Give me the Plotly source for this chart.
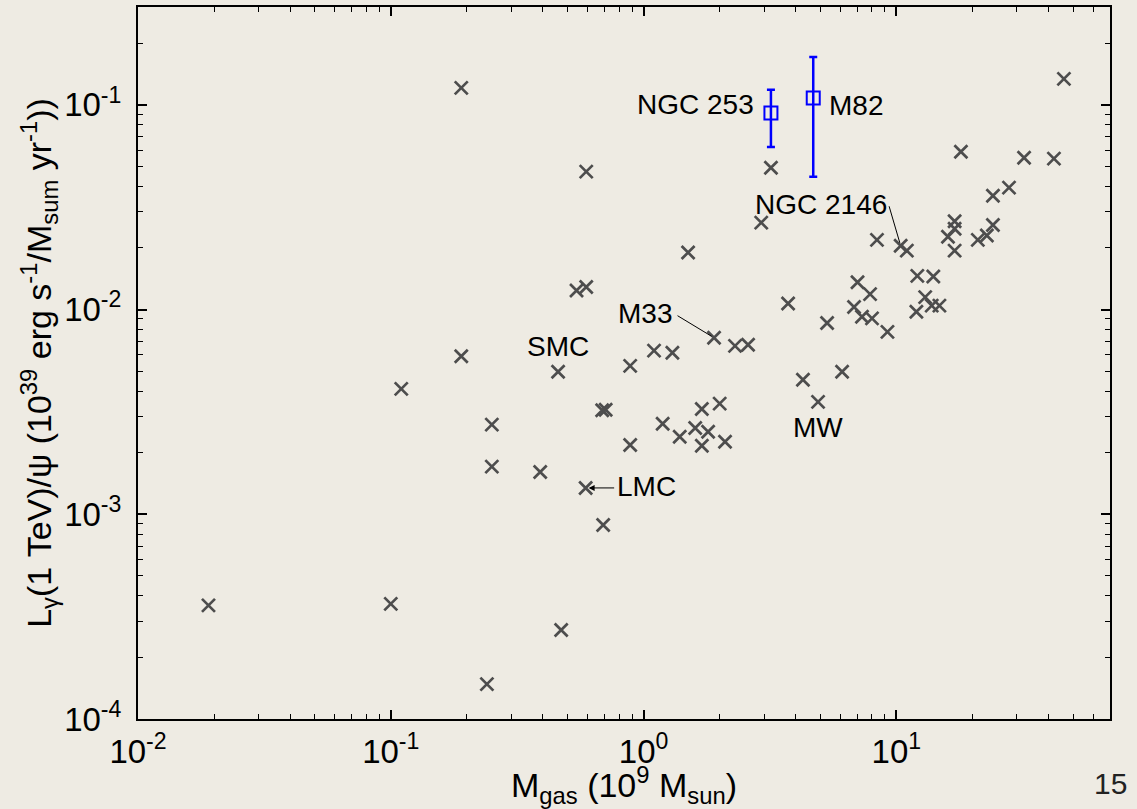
import numpy as np
import plotly.graph_objects as go

# ---- data ----
m_gas = [0.019, 0.100, 0.190, 0.190, 0.110, 0.251, 0.251, 0.390, 0.590, 0.692,
         0.472, 0.240, 0.686, 0.708, 0.885, 1.19, 1.39, 1.60, 1.70, 1.80,
         1.70, 2.00, 2.10, 4.27, 4.90, 3.19, 0.593, 2.92, 1.50, 0.543,
         0.593, 1.90, 2.30, 2.59, 1.10, 1.30, 0.885, 0.459, 46.0, 18.0,
         32.0, 42.0, 27.9, 24.1, 17.0, 17.0, 16.0, 17.0, 24.1, 22.8,
         21.0, 8.38, 10.4, 11.0, 12.1, 14.0, 13.0, 13.8, 14.8, 12.0,
         7.02, 7.87, 6.80, 7.31, 8.01, 9.22, 3.73, 5.32, 6.10]
l_gamma = [3.59e-4, 3.65e-4, 0.121, 5.92e-3, 4.10e-3, 2.74e-3, 1.71e-3, 1.61e-3, 1.345e-3, 8.87e-4,
           2.72e-4, 1.48e-4, 3.22e-3, 3.24e-3, 2.18e-3, 2.77e-3, 2.39e-3, 2.64e-3, 3.27e-3, 2.53e-3,
           2.16e-3, 3.47e-3, 2.26e-3, 4.54e-3, 3.54e-3, 0.0493, 0.0472, 0.0266, 0.0190, 0.0124,
           0.0129, 7.28e-3, 6.65e-3, 6.73e-3, 6.30e-3, 6.15e-3, 5.31e-3, 4.97e-3, 0.134, 0.0590,
           0.0552, 0.0546, 0.0394, 0.0360, 0.0270, 0.0248, 0.0227, 0.0194, 0.0259, 0.0230,
           0.0219, 0.0219, 0.0205, 0.0194, 0.0146, 0.0145, 0.0115, 0.01045, 0.01045, 9.75e-3,
           0.0136, 0.0119, 0.0103, 9.23e-3, 9.06e-3, 7.78e-3, 0.0107, 8.6e-3, 4.97e-3]

sb_names = ["NGC 253", "M82"]
sb_mgas = [3.19, 4.69]
sb_lg = [0.0912, 0.108]
sb_hi = [0.1186, 0.1714]
sb_lo = [0.0622, 0.0445]

named = ["SMC", "LMC", "M33", "MW", "NGC 2146"]
named_mgas = [0.459, 0.590, 1.90, 4.90, 10.4]
named_lg = [4.97e-3, 1.345e-3, 7.28e-3, 3.54e-3, 0.0205]

x_tickvals = [0.01, 0.1, 1, 10]
x_ticktext = ["10<sup>-2</sup>", "10<sup>-1</sup>", "10<sup>0</sup>", "10<sup>1</sup>"]
y_tickvals = [1e-4, 1e-3, 1e-2, 1e-1]
y_ticktext = ["10<sup>-4</sup>", "10<sup>-3</sup>", "10<sup>-2</sup>", "10<sup>-1</sup>"]
x_minor = [k * d for d in x_tickvals for k in range(2, 10) if k * d <= 70]
y_minor = [k * d for d in y_tickvals for k in range(2, 10) if k * d <= 0.3]

# ---- style ----
BG = "#EEEBE3"
FONT = "Liberation Sans, Arial, Helvetica, sans-serif"
GRAY = "#4D4D4D"
X_RANGE = [-2, np.log10(70)]
Y_RANGE = [-4, -0.522]

fig = go.Figure()
fig.add_trace(go.Scatter(
    x=m_gas, y=l_gamma, mode="markers",
    marker=dict(symbol="x-thin", size=13, line=dict(width=2.7, color=GRAY), color=GRAY),
    showlegend=False, hoverinfo="skip"))

err_plus = [h - v for h, v in zip(sb_hi, sb_lg)]
err_minus = [v - l for v, l in zip(sb_lg, sb_lo)]
fig.add_trace(go.Scatter(
    x=sb_mgas, y=sb_lg, mode="markers",
    marker=dict(symbol="square-open", size=13, line=dict(width=2, color="#0000FF"), color="#0000FF"),
    error_y=dict(type="data", symmetric=False, array=err_plus, arrayminus=err_minus,
                 color="#0000FF", thickness=2.5, width=4),
    showlegend=False, hoverinfo="skip"))

lab_font = dict(family=FONT, size=28, color="black")
annotations = []
sb_style = [dict(xanchor="right", xshift=-15, yshift=9),
            dict(xanchor="left", xshift=14, yshift=-7)]
for name, xv, yv, st in zip(sb_names, sb_mgas, sb_lg, sb_style):
    annotations.append(dict(x=np.log10(xv), y=np.log10(yv), text=name, showarrow=False,
                            font=lab_font, yanchor="middle", **st))
named_style = [dict(xanchor="center", xshift=0, yshift=25),
               dict(xanchor="left", xshift=29, yshift=1),
               dict(xanchor="right", xshift=-40, yshift=24),
               dict(xanchor="center", xshift=0, yshift=-26),
               dict(xanchor="right", xshift=-12, yshift=41)]
for name, xv, yv, st in zip(named, named_mgas, named_lg, named_style):
    annotations.append(dict(x=np.log10(xv), y=np.log10(yv), text=name, showarrow=False,
                            font=lab_font, yanchor="middle", **st))
leaders = {"LMC": dict(ax=30, ay=0, arrowhead=2, arrowsize=1.2, standoff=3),
           "M33": dict(ax=-38, ay=-23, arrowhead=0, standoff=3),
           "NGC 2146": dict(ax=-12, ay=-41, arrowhead=0, standoff=3)}
for name, xv, yv in zip(named, named_mgas, named_lg):
    if name in leaders:
        annotations.append(dict(x=np.log10(xv), y=np.log10(yv), text="", showarrow=True,
                                arrowwidth=1, arrowcolor="black", axref="pixel", ayref="pixel",
                                **leaders[name]))
annotations.append(dict(x=1.001, y=-0.091, xref="paper", yref="paper", text="15",
                        showarrow=False, font=dict(family=FONT, size=30, color="#222222"),
                        xanchor="center", yanchor="middle"))

tick_common = dict(type="log", showgrid=False, zeroline=False,
                   showline=True, linecolor="black", linewidth=2, mirror="ticks",
                   ticks="inside", ticklen=9, tickwidth=1.5, tickcolor="black",
                   tickfont=dict(family=FONT, size=33, color="black"),
                   automargin=False)

fig.update_layout(
    width=1137, height=809,
    paper_bgcolor=BG, plot_bgcolor=BG,
    margin=dict(l=138, r=27, t=7, b=90),
    font=dict(family=FONT, color="black"),
    xaxis=dict(range=X_RANGE, tickvals=x_tickvals, ticktext=x_ticktext, ticklabelstandoff=2,
               minor=dict(tickmode="array", tickvals=x_minor, ticks="inside", ticklen=5,
                          tickwidth=1.2, tickcolor="black", showgrid=False),
               title=dict(text="M<sub>gas</sub> (10<sup>9</sup> M<sub>sun</sub>)",
                          font=dict(family=FONT, size=34), standoff=2),
               **tick_common),
    yaxis=dict(range=Y_RANGE, tickvals=y_tickvals, ticktext=y_ticktext, ticklabelstandoff=8,
               minor=dict(tickmode="array", tickvals=y_minor, ticks="inside", ticklen=5,
                          tickwidth=1.2, tickcolor="black", showgrid=False),
               title=dict(text="L<sub>γ</sub>(1 TeV)/ψ (10<sup>39</sup> erg s<sup>-1</sup>/M<sub>sum</sub> yr<sup>-1</sup>))",
                          font=dict(family=FONT, size=34), standoff=2),
               **tick_common),
    annotations=annotations,
)

fig.write_html("out.html", config={"displayModeBar": False},
               post_script="document.body.style.margin='0px';")
